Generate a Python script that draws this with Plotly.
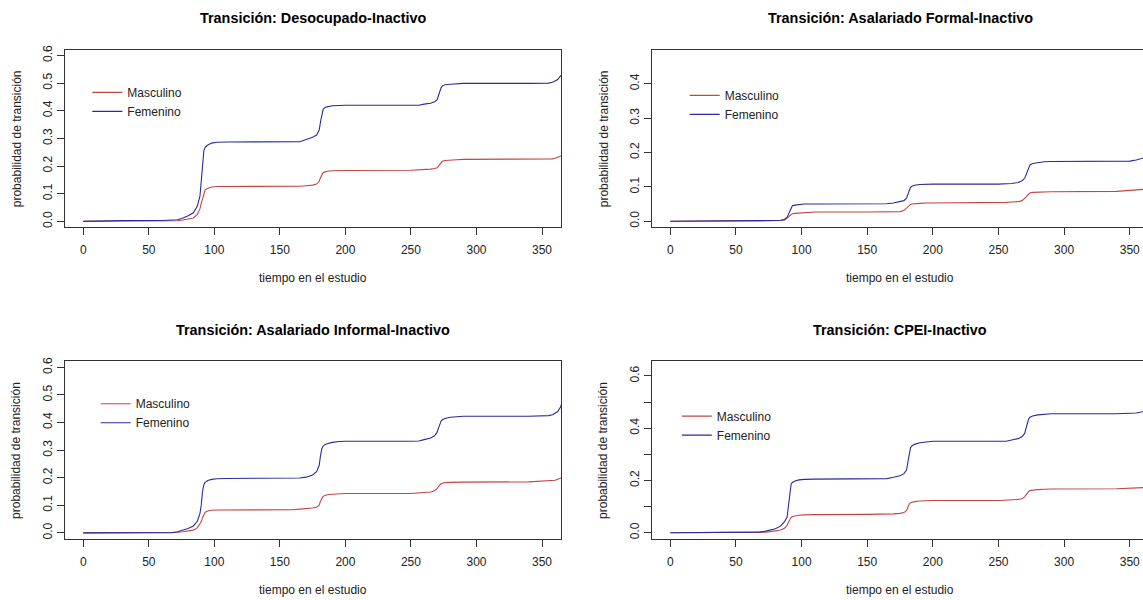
import plotly.graph_objects as go

# ---------------- data ----------------
tiempo = [0, 30, 60, 68, 72, 76, 80, 84, 87, 89, 90, 91, 92, 93, 95, 98, 102, 110,
          150, 160, 165, 170, 175, 178, 180, 181, 182, 183, 184, 186, 190, 195, 200,
          250, 256, 260, 265, 268, 270, 271, 272, 273, 274, 276, 280, 285, 290,
          340, 350, 355, 358, 360, 362, 364, 365]

# Transición: Desocupado-Inactivo
masc_desocupado = [0, 0, 0, 0.001, 0.002, 0.005, 0.009, 0.012, 0.025, 0.045, 0.065, 0.085, 0.105, 0.114, 0.12, 0.124, 0.126, 0.126,
                   0.126, 0.126, 0.127, 0.129, 0.131, 0.135, 0.145, 0.158, 0.17, 0.176, 0.178, 0.181, 0.183, 0.184, 0.184,
                   0.185, 0.186, 0.187, 0.189, 0.191, 0.194, 0.2, 0.207, 0.213, 0.217, 0.22, 0.222, 0.223, 0.224,
                   0.225, 0.225, 0.225, 0.226, 0.228, 0.231, 0.235, 0.237]
fem_desocupado = [0, 0.003, 0.003, 0.004, 0.006, 0.012, 0.02, 0.031, 0.055, 0.09, 0.14, 0.2, 0.255, 0.268, 0.276, 0.283, 0.286, 0.287,
                  0.287, 0.287, 0.288, 0.296, 0.304, 0.312, 0.33, 0.36, 0.39, 0.405, 0.41, 0.414, 0.418, 0.42, 0.42,
                  0.42, 0.42, 0.424, 0.427, 0.432, 0.44, 0.455, 0.47, 0.483, 0.49, 0.494, 0.496, 0.498, 0.499,
                  0.499, 0.499, 0.5, 0.503, 0.507, 0.513, 0.525, 0.53]

# Transición: Asalariado Formal-Inactivo
masc_formal = [0, 0, 0, 0, 0, 0, 0.001, 0.002, 0.004, 0.008, 0.012, 0.016, 0.02, 0.022, 0.023, 0.024, 0.026, 0.027,
               0.027, 0.027, 0.027, 0.027, 0.028, 0.031, 0.038, 0.043, 0.047, 0.049, 0.05, 0.051, 0.052, 0.053, 0.053,
               0.053, 0.055, 0.056, 0.057, 0.06, 0.065, 0.07, 0.075, 0.079, 0.082, 0.084, 0.085, 0.085, 0.086,
               0.087, 0.089, 0.09, 0.091, 0.092, 0.093, 0.093, 0.094]
fem_formal = [0, 0, 0, 0.002, 0.002, 0.002, 0.002, 0.003, 0.005, 0.012, 0.02, 0.03, 0.04, 0.045, 0.047, 0.049, 0.05, 0.05,
              0.05, 0.05, 0.051, 0.053, 0.056, 0.06, 0.068, 0.08, 0.092, 0.099, 0.102, 0.105, 0.107, 0.108, 0.108,
              0.108, 0.108, 0.11, 0.113, 0.118, 0.125, 0.135, 0.148, 0.158, 0.164, 0.168, 0.171, 0.173, 0.174,
              0.174, 0.175, 0.178, 0.182, 0.185, 0.188, 0.19, 0.19]

# Transición: Asalariado Informal-Inactivo
masc_informal = [0, 0, 0, 0.001, 0.002, 0.004, 0.006, 0.01, 0.018, 0.03, 0.04, 0.055, 0.068, 0.075, 0.079, 0.082, 0.083, 0.083,
                 0.083, 0.084, 0.086, 0.087, 0.09, 0.093, 0.1, 0.115, 0.127, 0.132, 0.135, 0.138, 0.14, 0.142, 0.143,
                 0.143, 0.144, 0.145, 0.148, 0.153, 0.16, 0.168, 0.174, 0.178, 0.18, 0.182, 0.183, 0.184, 0.184,
                 0.185, 0.187, 0.188, 0.189, 0.191, 0.194, 0.198, 0.2]
fem_informal = [0, 0, 0, 0.001, 0.004, 0.01, 0.016, 0.025, 0.042, 0.07, 0.1, 0.15, 0.175, 0.183, 0.19, 0.194, 0.196, 0.197,
                0.197, 0.197, 0.199, 0.202, 0.21, 0.222, 0.245, 0.28, 0.305, 0.315, 0.319, 0.323, 0.328, 0.331, 0.332,
                0.332, 0.333, 0.338, 0.344, 0.352, 0.365, 0.38, 0.395, 0.405, 0.41, 0.415, 0.419, 0.421, 0.423,
                0.423, 0.424, 0.425, 0.428, 0.433, 0.44, 0.455, 0.468]

# Transición: CPEI-Inactivo
masc_cpei = [0, 0, 0, 0.001, 0.002, 0.004, 0.006, 0.01, 0.017, 0.028, 0.04, 0.05, 0.058, 0.062, 0.065, 0.067, 0.068, 0.069,
             0.07, 0.07, 0.071, 0.072, 0.074, 0.077, 0.085, 0.1, 0.11, 0.115, 0.117, 0.119, 0.121, 0.122, 0.123,
             0.123, 0.124, 0.125, 0.127, 0.13, 0.137, 0.145, 0.153, 0.158, 0.161, 0.163, 0.165, 0.166, 0.167,
             0.168, 0.169, 0.17, 0.171, 0.172, 0.173, 0.175, 0.176]
fem_cpei = [0, 0, 0, 0.002, 0.005, 0.009, 0.015, 0.025, 0.042, 0.06, 0.1, 0.16, 0.185, 0.192, 0.198, 0.202, 0.204, 0.205,
            0.206, 0.206, 0.207, 0.212, 0.218, 0.226, 0.24, 0.27, 0.305, 0.325, 0.332, 0.338, 0.344, 0.348, 0.35,
            0.35, 0.35, 0.355, 0.36, 0.368, 0.38, 0.4, 0.42, 0.435, 0.442, 0.447, 0.451, 0.454, 0.455,
            0.455, 0.456, 0.458, 0.461, 0.463, 0.466, 0.468, 0.47]

titulos = ["Transición: Desocupado-Inactivo", "Transición: Asalariado Formal-Inactivo",
           "Transición: Asalariado Informal-Inactivo", "Transición: CPEI-Inactivo"]
series_masc = [masc_desocupado, masc_formal, masc_informal, masc_cpei]
series_fem = [fem_desocupado, fem_formal, fem_informal, fem_cpei]
nombres = ["Masculino", "Femenino"]
x_ticks = [0, 50, 100, 150, 200, 250, 300, 350]
y_ticks = [[0, 0.1, 0.2, 0.3, 0.4, 0.5, 0.6],
           [0, 0.1, 0.2, 0.3, 0.4],
           [0, 0.1, 0.2, 0.3, 0.4, 0.5, 0.6],
           [0, 0.1, 0.2, 0.3, 0.4, 0.5, 0.6]]
y_ticktext = [["0.0", "0.1", "0.2", "0.3", "0.4", "0.5", "0.6"],
              ["0.0", "0.1", "0.2", "0.3", "0.4"],
              ["0.0", "0.1", "0.2", "0.3", "0.4", "0.5", "0.6"],
              ["0.0", "", "0.2", "", "0.4", "", "0.6"]]

# ---------------- layout geometry (pixels) ----------------
W, H = 1143, 600
FONT = "Liberation Sans, Arial, sans-serif"
RED = "#c44444"
BLUE = "#2a2a9e"
AXC = "#333333"


def px(x):
    return x / W


def py(y):
    return 1 - y / H


panels = [
    dict(left=65.3, right=561.3, top=45.0, bottom=224.3, xr=[-13.7, 364.7], yr=[-0.022, 0.621],
         leg=(92.3, 93.5), full=True),
    dict(left=652.3, right=1143.0, top=45.0, bottom=224.3, xr=[-13.7, 360.1], yr=[-0.018, 0.4995],
         leg=(689.7, 96.5), full=False),
    dict(left=65.3, right=561.3, top=359.3, bottom=538.7, xr=[-13.7, 364.7], yr=[-0.023, 0.622],
         leg=(100.7, 407.5), full=True),
    dict(left=652.3, right=1143.0, top=359.3, bottom=538.7, xr=[-13.7, 360.1], yr=[-0.025, 0.656],
         leg=(681.8, 420.0), full=False),
]

fig = go.Figure()
annotations = []
layout_axes = {}

for i, p in enumerate(panels):
    n = i + 1
    xa = "x" if n == 1 else f"x{n}"
    ya = "y" if n == 1 else f"y{n}"
    lg = "legend" if n == 1 else f"legend{n}"
    for nombre, vals, col in ((nombres[0], series_masc[i], RED), (nombres[1], series_fem[i], BLUE)):
        fig.add_trace(go.Scatter(x=tiempo, y=vals, mode="lines", name=nombre,
                                 line=dict(color=col, width=1.1),
                                 xaxis=xa, yaxis=ya, legend=lg, showlegend=True))

    xkey = "xaxis" if n == 1 else f"xaxis{n}"
    ykey = "yaxis" if n == 1 else f"yaxis{n}"
    layout_axes[xkey] = dict(
        domain=[px(p["left"]), px(p["right"])], anchor=ya, range=p["xr"],
        tickvals=x_ticks, ticks="outside", ticklen=7, tickwidth=1, tickcolor=AXC,
        showline=True, linecolor=AXC, linewidth=1, mirror=True,
        showgrid=False, zeroline=False, fixedrange=True,
        tickfont=dict(family=FONT, size=12, color="#222222"), ticklabelstandoff=4,
    )
    layout_axes[ykey] = dict(
        domain=[py(p["bottom"]), py(p["top"])], anchor=xa, range=p["yr"],
        tickvals=y_ticks[i], ticktext=y_ticktext[i], tickangle=-90,
        ticks="outside", ticklen=7, tickwidth=1, tickcolor=AXC,
        showline=True, linecolor=AXC, linewidth=1, mirror=p["full"],
        showgrid=False, zeroline=False, fixedrange=True,
        tickfont=dict(family=FONT, size=12, color="#222222"), ticklabelstandoff=1,
    )

    cx = (p["left"] + (p["left"] + 496.0)) / 2
    annotations.append(dict(text=f"<b>{titulos[i]}</b>", x=px(cx), y=py(p["top"] - 32.0),
                            xref="paper", yref="paper", xanchor="center", yanchor="middle",
                            showarrow=False, font=dict(family=FONT, size=14.4, color="#000000")))
    annotations.append(dict(text="tiempo en el estudio", x=px(cx), y=py(p["bottom"] + 51.0),
                            xref="paper", yref="paper", xanchor="center", yanchor="middle",
                            showarrow=False, font=dict(family=FONT, size=12, color="#222222")))
    annotations.append(dict(text="probabilidad de transición", x=px(p["left"] - 48.6),
                            y=py((p["top"] + p["bottom"]) / 2), textangle=-90,
                            xref="paper", yref="paper", xanchor="center", yanchor="middle",
                            showarrow=False, font=dict(family=FONT, size=12, color="#222222")))

    lx, ly = p["leg"]
    layout_axes[lg] = dict(x=px(lx - 5), y=py(ly - 20), xanchor="left", yanchor="top",
                           xref="paper", yref="paper", bgcolor="rgba(0,0,0,0)", borderwidth=0,
                           font=dict(family=FONT, size=12, color="#222222"), itemwidth=30,
                           tracegroupgap=0)

fig.update_layout(
    width=W, height=H, autosize=False,
    margin=dict(l=0, r=0, t=0, b=0, pad=0),
    paper_bgcolor="white", plot_bgcolor="white",
    annotations=annotations,
    **layout_axes,
)

fig.write_html("out.html", config=dict(displayModeBar=False))
